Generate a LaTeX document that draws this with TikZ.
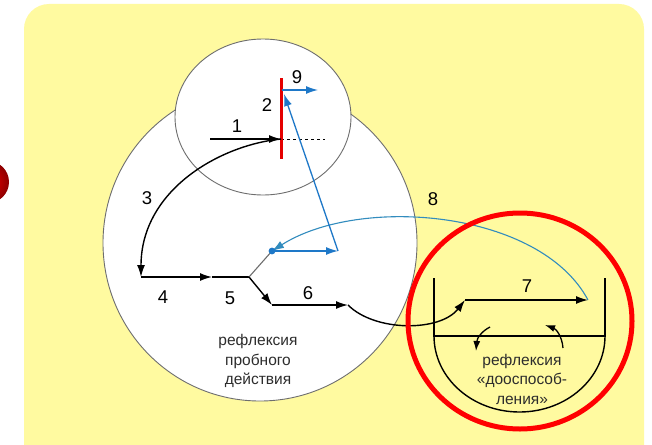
\documentclass[tikz,border=0pt]{standalone}
\usepackage{fontspec}
\setmainfont{Liberation Sans}
\usetikzlibrary{arrows.meta}
\definecolor{bgyellow}{RGB}{255,250,160}
\definecolor{myblue}{RGB}{30,120,200}
\definecolor{curveblue}{RGB}{50,140,190}
\definecolor{outline}{RGB}{110,110,110}
\definecolor{txtgray}{RGB}{45,45,45}
\tikzset{
  blk/.style={draw=black, line width=1.4pt},
  tip/.style={-{Latex[length=12pt,width=8pt]}},
  blu/.style={draw=myblue, line width=1.3pt},
  num/.style={font=\fontsize{18.5}{18.5}\selectfont, inner sep=0pt},
  body/.style={font=\fontsize{15.5}{19.5}\selectfont, text=txtgray, align=center, inner sep=0pt},
}
\begin{document}
\begin{tikzpicture}[x=1pt,y=-1pt]
\useasboundingbox (0,0) rectangle (652,444);
\clip (0,0) rectangle (652,444);
\fill[white] (0,0) rectangle (652,444);
% background panel
\fill[bgyellow, rounded corners=25pt] (24,4) rectangle (644,470);
% partial red ball at the left edge
\shade[inner color=red!95!black, outer color=red!55!black] (-12,182) circle (21);
% big ellipse and small circle
\draw[fill=white, draw=outline, line width=0.9pt] (260,243) ellipse [x radius=157, y radius=158];
\draw[fill=white, draw=outline, line width=0.9pt] (263,117) ellipse [x radius=88, y radius=78];
% coordinates
\coordinate (s1) at (210,139);
\coordinate (hit) at (281,139);
\coordinate (dashend) at (325,139);
\coordinate (rtop) at (281,78);
\coordinate (rbot) at (281,159);
\coordinate (n9a) at (282,90);
\coordinate (n9b) at (318,90);
\coordinate (c3end) at (141,277);
\coordinate (mid4) at (212,277);
\coordinate (br) at (249,277);
\coordinate (p5) at (272,305);
\coordinate (p6) at (348,305);
\coordinate (p7a) at (465,300);
\coordinate (p7b) at (588,300);
\coordinate (dot) at (272,251);
\coordinate (bl) at (338,251);
\coordinate (btip) at (284,94);
% red bar and arrow 1
\draw[dashed, line width=0.9pt] (hit) -- (dashend);
\draw[blk, tip] (s1) -- (hit);
\draw[red!90!black, line width=3pt] (rtop) -- (rbot);
% blue arrow 9
\draw[blu, tip] (n9a) -- (n9b);
% arrow 3
\draw[blk, tip] (hit) .. controls (220,145) and (141,190) .. (c3end);
% line 4 with middle arrow
\draw[blk, tip] (c3end) -- (mid4);
\draw[blk] (mid4) -- (br);
% gray branch
\draw[draw=outline, line width=1.1pt] (br) -- (dot);
% arrow 5 and 6
\draw[blk, tip] (br) -- (p5);
\draw[blk, tip] (p5) -- (p6);
\draw[blk, tip] (p6) .. controls (375,332) and (440,332) .. (p7a);
% bowl
\draw[blk] (434,278) -- (434,336) -- (605,336) -- (605,278);
\draw[blk] (434,336) arc[start angle=180, end angle=360, x radius=85.5, y radius=-76];
% arrow 7
\draw[blk, tip] (p7a) -- (p7b);
% small arrows in bowl
\draw[line width=1.3pt, -{Latex[length=10pt,width=7pt]}] (490,327) .. controls (482,331) and (477,338) .. (476,351);
\draw[line width=1.3pt, -{Latex[length=10pt,width=7pt]}] (563,348) .. controls (562,336) and (556,329) .. (545,325);
% blue curve 8
\draw[draw=curveblue, line width=1.1pt, tip] (p7b) .. controls (540,210) and (360,195) .. (dot);
% blue path
\draw[blu, tip] (dot) -- (bl);
\draw[blu, tip] (bl) -- (btip);
\fill[myblue] (dot) circle (3.4);
% labels
\node[num] (l1) at (237,126) {1};
\node[num] (l2) at (267,105) {2};
\node[num] (l9) at (297,77) {9};
\node[num] (l3) at (147,198) {3};
\node[num] (l4) at (163,297) {4};
\node[num] (l5) at (230,298) {5};
\node[num] (l6) at (308,293) {6};
\node[num] (l7) at (527,286) {7};
\node[num] (l8) at (433,199) {8};
\node[body] (t1) at (258,361) {рефлексия\\пробного\\действия};
\node[body] (t2) at (522,379) {рефлексия\\«дооспособ-\\ления»};
% red highlight ellipse
\draw[red, line width=5pt] (520,321) ellipse [x radius=112, y radius=108];
\end{tikzpicture}
\end{document}
